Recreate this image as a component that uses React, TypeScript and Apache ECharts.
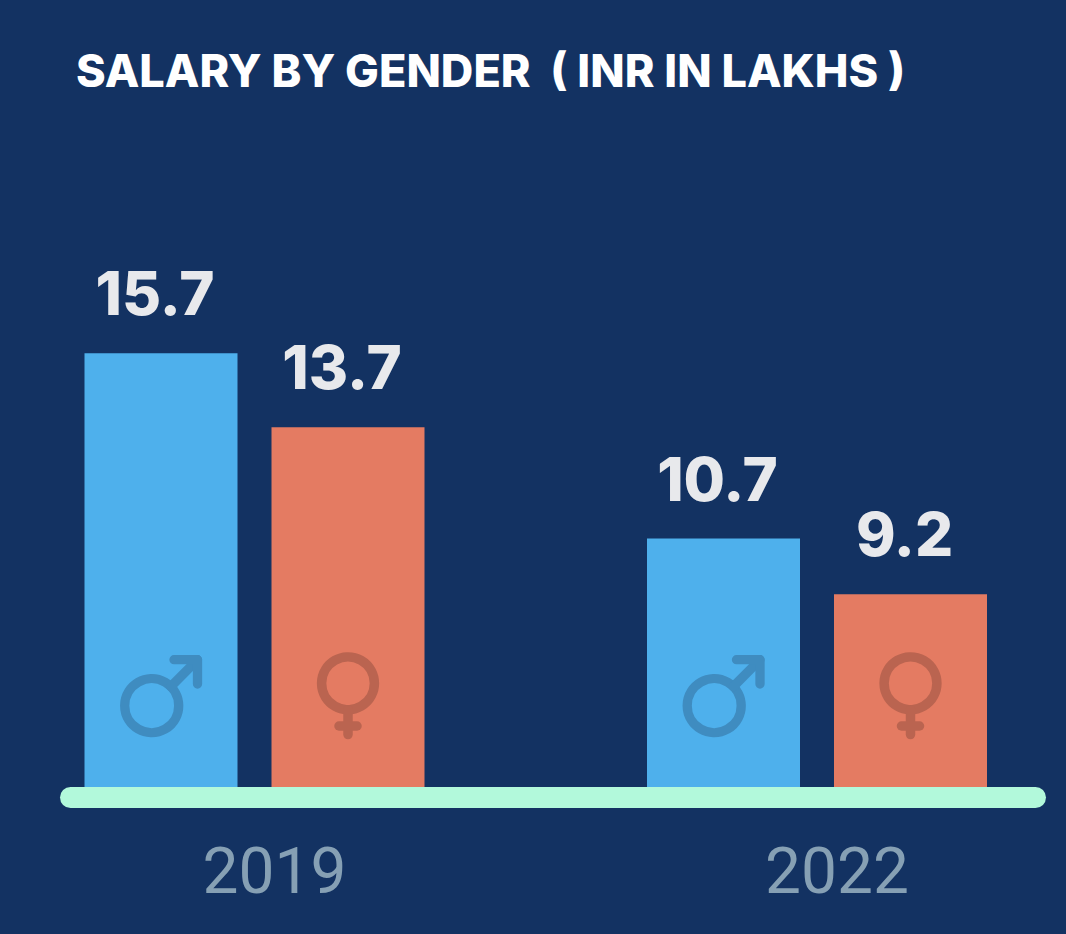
import React, { useEffect, useRef } from "react";
import * as echarts from "echarts";

const years = ["2019", "2022"];
const maleSalary = [15.7, 10.7];
const femaleSalary = [13.7, 9.2];
const titleText = "SALARY BY GENDER  ( INR IN LAKHS )";

const BG = "#133262";
const BLUE = "#4EB0EC";
const ORANGE = "#E47B62";
const BLUE_DARK = "#3F8CC0";
const ORANGE_DARK = "#BA6450";
const MINT = "#B2F9DB";
const LABEL = "#E8E9EC";
const YEAR = "#86A0B4";

const Y_MIN = 4;
const Y_MAX = 16;
const BAR_W = 153;
const BAR_GAP = 34;

function maleGlyph(cx: number, by: number) {
  const s = { stroke: BLUE_DARK, lineWidth: 9.3, fill: "none", lineCap: "round" as const };
  const ccx = cx - 9.3;
  const ccy = by - 81.3;
  const r = 27;
  const tx = cx + 36.5;
  const ty = by - 127.3;
  return {
    type: "group",
    children: [
      { type: "circle", shape: { cx: ccx, cy: ccy, r }, style: { ...s } },
      { type: "line", shape: { x1: ccx + r * 0.707, y1: ccy - r * 0.707, x2: tx, y2: ty }, style: { ...s } },
      { type: "polyline", shape: { points: [[cx + 13, ty], [tx, ty], [tx, by - 103]] }, style: { ...s, lineJoin: "round" } },
    ],
  };
}

function femaleGlyph(cx: number, by: number) {
  const s = { stroke: ORANGE_DARK, lineWidth: 9.5, fill: "none", lineCap: "round" as const };
  const ccy = by - 103.7;
  const r = 26.4;
  return {
    type: "group",
    children: [
      { type: "circle", shape: { cx, cy: ccy, r }, style: { ...s } },
      { type: "line", shape: { x1: cx, y1: ccy + r, x2: cx, y2: by - 52.4 }, style: { ...s } },
      { type: "line", shape: { x1: cx - 9, y1: by - 61, x2: cx + 9, y2: by - 61 }, style: { ...s } },
    ],
  };
}

export default function App() {
  const ref = useRef<HTMLDivElement>(null);
  useEffect(() => {
    if (!ref.current) return;
    const chart = echarts.init(ref.current, undefined, { renderer: "svg" });
    const off = (BAR_W + BAR_GAP) / 2;
    const valueLabel = {
      show: true,
      position: "top",
      distance: 30,
      offset: [-6, 0],
      color: LABEL,
      fontFamily: "Inter",
      fontWeight: 800,
      fontSize: 60,
    };
    chart.setOption({
      animation: false,
      backgroundColor: BG,
      title: {
        text: titleText,
        left: 76,
        top: 48,
        padding: 0,
        textStyle: { color: "#FFFFFF", fontFamily: "Inter", fontWeight: 800, fontSize: 45 },
      },
      grid: [
        { left: -26.75, width: 1125, top: 342, bottom: 147, outerBoundsMode: "none", containLabel: false },
        { left: 70.5, right: 30.5, top: 100, bottom: 136.5, outerBoundsMode: "none", containLabel: false },
      ],
      xAxis: [
        {
          type: "category",
          gridIndex: 0,
          data: years,
          boundaryGap: true,
          axisLine: { show: false },
          axisTick: { show: false },
          splitLine: { show: false },
          axisLabel: {
            color: YEAR,
            fontFamily: "Roboto",
            fontSize: 64,
            lineHeight: 64,
            margin: 52,
            padding: [0, 0, 0, 40],
          },
        },
        {
          type: "value",
          gridIndex: 1,
          min: 0,
          max: 1,
          axisLine: { show: true, onZero: false, lineStyle: { color: MINT, width: 21, cap: "round" } },
          axisTick: { show: false },
          axisLabel: { show: false },
          splitLine: { show: false },
        },
      ],
      yAxis: [
        { type: "value", gridIndex: 0, min: Y_MIN, max: Y_MAX, show: false },
        { type: "value", gridIndex: 1, min: 0, max: 1, show: false },
      ],
      series: [
        {
          name: "Male",
          type: "bar",
          xAxisIndex: 0,
          yAxisIndex: 0,
          data: maleSalary,
          barWidth: BAR_W,
          barGap: `${(BAR_GAP / BAR_W) * 100}%`,
          clip: true,
          itemStyle: { color: BLUE },
          label: valueLabel,
          z: 2,
        },
        {
          name: "Female",
          type: "bar",
          xAxisIndex: 0,
          yAxisIndex: 0,
          data: femaleSalary,
          barWidth: BAR_W,
          barGap: `${(BAR_GAP / BAR_W) * 100}%`,
          clip: true,
          itemStyle: { color: ORANGE },
          label: valueLabel,
          z: 2,
        },
        {
          name: "MaleIcon",
          type: "custom",
          xAxisIndex: 0,
          yAxisIndex: 0,
          clip: false,
          z: 3,
          data: maleSalary.map((v, i) => [i, v]),
          renderItem: (params: any, api: any) => {
            const p = api.coord([api.value(0), Y_MIN]);
            return maleGlyph(p[0] - off, p[1]);
          },
        },
        {
          name: "FemaleIcon",
          type: "custom",
          xAxisIndex: 0,
          yAxisIndex: 0,
          clip: false,
          z: 3,
          data: femaleSalary.map((v, i) => [i, v]),
          renderItem: (params: any, api: any) => {
            const p = api.coord([api.value(0), Y_MIN]);
            return femaleGlyph(p[0] + off, p[1]);
          },
        },
      ],
    });
    return () => chart.dispose();
  }, []);
  return (
    <div
      ref={ref}
      style={{ position: "fixed", left: 0, top: 0, width: 1066, height: 934, background: BG }}
    />
  );
}
